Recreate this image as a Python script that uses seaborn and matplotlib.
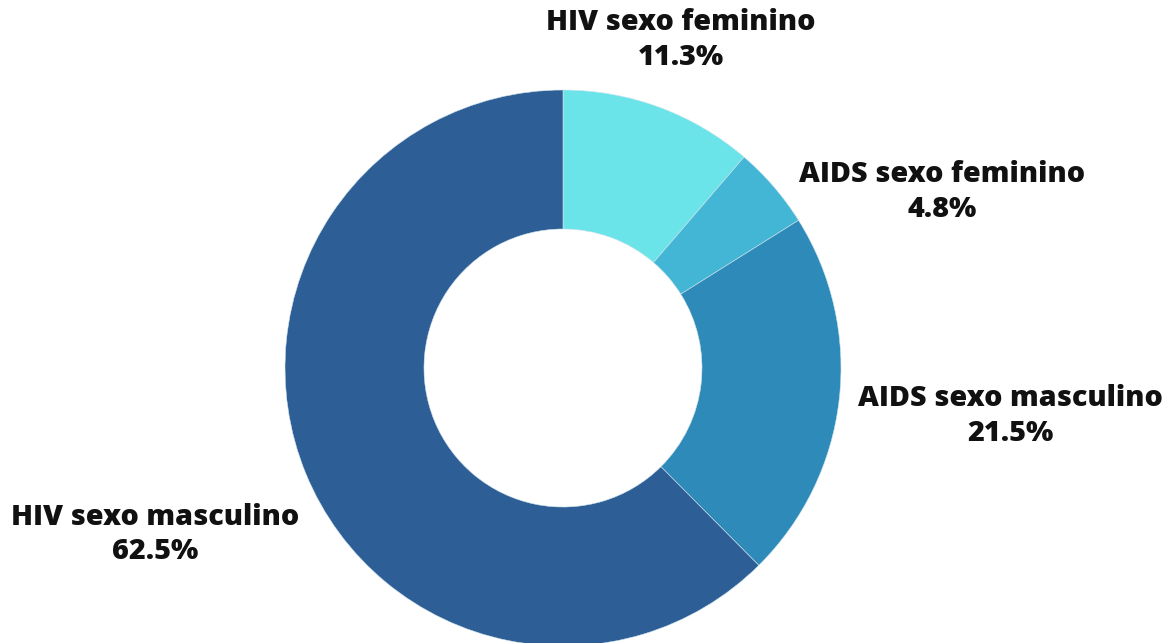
import matplotlib
matplotlib.use("Agg")
import matplotlib.pyplot as plt
import seaborn as sns

# Data
categories = ["HIV sexo feminino", "AIDS sexo feminino", "AIDS sexo masculino", "HIV sexo masculino"]
shares = [11.3, 4.8, 21.5, 62.5]
colors = ["#6ae4e8", "#42b6d4", "#2e8ab9", "#2e5e96"]

# Label block centres (data units, 1 = outer radius)
label_pos = [(0.424, 1.180), (1.363, 0.633), (1.608, -0.173), (-1.468, -0.599)]

W, H, DPI = 1176, 643, 100
R_PX = 278
CX, CY = 563, 368

sns.set_theme(style="white")
plt.rcParams["font.family"] = ["Open Sans", "DejaVu Sans"]

fig = plt.figure(figsize=(W / DPI, H / DPI), dpi=DPI)
ax = fig.add_axes([0, 0, 1, 1])

ax.pie(
    shares,
    colors=colors,
    startangle=90,
    counterclock=False,
    radius=1.0,
    wedgeprops=dict(width=0.5, edgecolor="#d0e4ee", linewidth=0.4),
)

for name, val, (x, y) in zip(categories, shares, label_pos):
    ax.text(x, y, f"{name}\n{val:.1f}%", ha="center", va="center",
            fontsize=20.7, fontweight=800, color="#111111", linespacing=1.27,
            multialignment="center")

ax.set_xlim(-CX / R_PX, (W - CX) / R_PX)
ax.set_ylim(-(H - CY) / R_PX, CY / R_PX)
ax.set_aspect("auto")
ax.axis("off")

fig.savefig("out.png", dpi=DPI)
